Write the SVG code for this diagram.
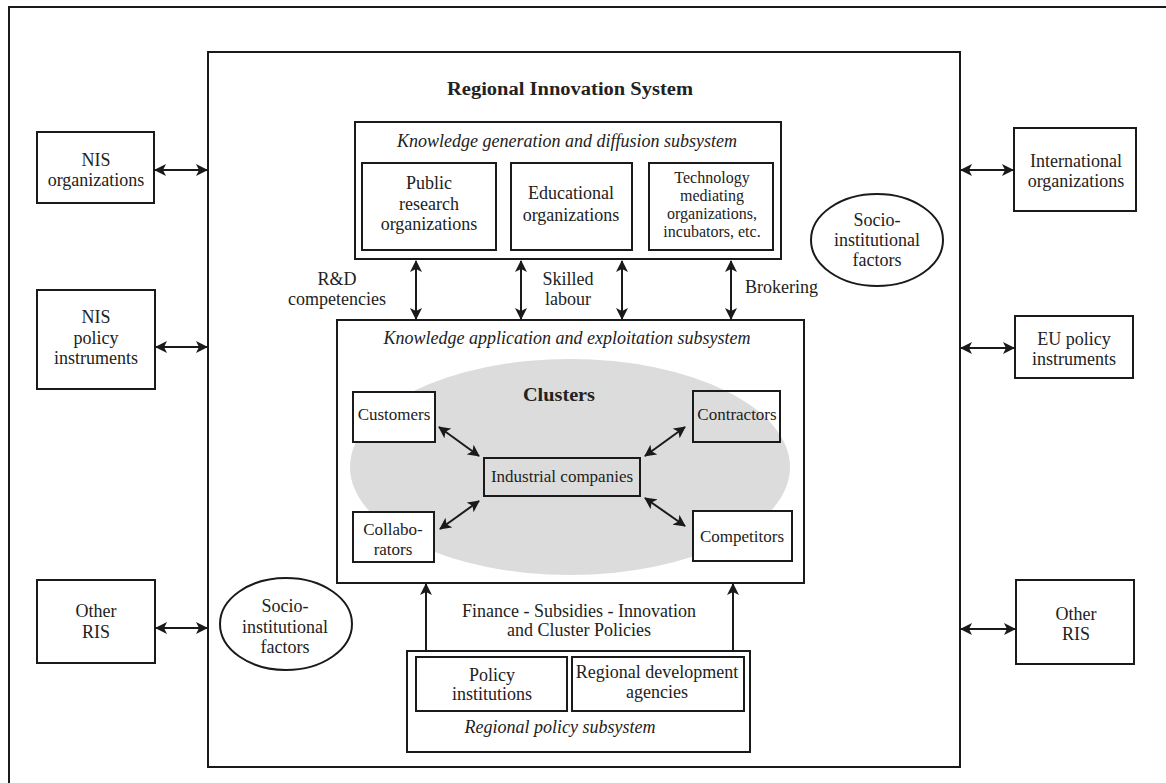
<svg xmlns="http://www.w3.org/2000/svg" width="1166" height="783" viewBox="0 0 1166 783">
<defs>
<marker id="ah" viewBox="0 0 12 12" refX="11" refY="6" markerWidth="12" markerHeight="12" markerUnits="userSpaceOnUse" orient="auto-start-reverse">
<path d="M0,0 L12,6 L0,12 L3,6 z" fill="#1a1a1a"/>
</marker>
</defs>
<style>
.b{fill:none;stroke:#1a1a1a;stroke-width:2}
.w{fill:#fff;stroke:#1a1a1a;stroke-width:2}
text{font-family:"Liberation Serif","Times New Roman",serif;font-size:18px;fill:#222;text-anchor:middle}
.it{font-style:italic}
.bd{font-weight:bold}
.sm{font-size:16px}
.cl{font-size:17px}
.c{fill:none;stroke:#1a1a1a;stroke-width:2;marker-start:url(#ah);marker-end:url(#ah)}
.u{fill:none;stroke:#1a1a1a;stroke-width:2;marker-end:url(#ah)}
</style>
<rect width="1166" height="783" fill="#fff"/>
<path class="b" d="M9,783 V7 H1166"/>

<g id="ris">
<rect class="b" x="208" y="52" width="752" height="715"/>
<text class="bd" x="570" y="95" font-size="20.5" textLength="246" lengthAdjust="spacingAndGlyphs">Regional Innovation System</text>
</g>

<g id="nis-org"><rect class="b" x="37" y="132" width="117" height="71"/>
<text x="96" y="166">NIS</text><text x="96" y="186">organizations</text></g>
<g id="nis-policy"><rect class="b" x="37" y="290" width="118" height="99"/>
<text x="96" y="323">NIS</text><text x="96" y="344">policy</text><text x="96" y="364">instruments</text></g>
<g id="other-ris-left"><rect class="b" x="37" y="580" width="118" height="83"/>
<text x="96" y="617">Other</text><text x="96" y="638">RIS</text></g>

<g id="intl-org"><rect class="b" x="1014" y="128" width="122" height="83"/>
<text x="1076" y="167">International</text><text x="1076" y="187">organizations</text></g>
<g id="eu-policy"><rect class="b" x="1015" y="316" width="118" height="62"/>
<text x="1074" y="345">EU policy</text><text x="1074" y="365">instruments</text></g>
<g id="other-ris-right"><rect class="b" x="1016" y="580" width="118" height="84"/>
<text x="1076" y="620">Other</text><text x="1076" y="640">RIS</text></g>

<g id="socio-right"><ellipse class="b" cx="877" cy="240" rx="66" ry="46"/>
<text x="877" y="226">Socio-</text><text x="877" y="246">institutional</text><text x="877" y="266">factors</text></g>
<g id="socio-left"><ellipse class="b" cx="286" cy="624" rx="66" ry="46"/>
<text x="285" y="612">Socio-</text><text x="285" y="633">institutional</text><text x="285" y="653">factors</text></g>

<g id="kgd">
<rect class="b" x="355" y="122" width="426" height="137"/>
<text class="it" x="567" y="147">Knowledge generation and diffusion subsystem</text>
</g>
<g id="public-research"><rect class="b" x="362" y="163" width="134" height="87"/>
<text x="429" y="189">Public</text><text x="429" y="210">research</text><text x="429" y="230">organizations</text></g>
<g id="educational"><rect class="b" x="511" y="163" width="121" height="87"/>
<text x="571" y="199">Educational</text><text x="571" y="221">organizations</text></g>
<g id="technology"><rect class="b" x="649" y="163" width="124" height="87"/>
<text class="sm" x="712" y="183">Technology</text><text class="sm" x="712" y="201">mediating</text><text class="sm" x="712" y="219">organizations,</text><text class="sm" x="712" y="237">incubators, etc.</text></g>

<g id="kae">
<rect class="b" x="337" y="320" width="467" height="263"/>
<text class="it" x="567" y="344">Knowledge application and exploitation subsystem</text>
</g>
<g id="clusters">
<ellipse cx="570" cy="467" rx="220" ry="108" fill="#dcdcdc"/>
<text class="bd" x="559" y="401" font-size="21" textLength="72" lengthAdjust="spacingAndGlyphs">Clusters</text>
</g>
<g id="customers"><rect class="w" x="353" y="392" width="82" height="50"/>
<text class="cl" x="394" y="420">Customers</text></g>
<g id="contractors"><rect class="b" x="693" y="391" width="87" height="51"/>
<text class="cl" x="737" y="420">Contractors</text></g>
<g id="industrial"><rect class="b" x="484" y="458" width="156" height="38"/>
<text class="cl" x="562" y="482">Industrial companies</text></g>
<g id="collaborators"><rect class="w" x="353" y="512" width="81" height="50"/>
<text class="cl" x="393" y="535">Collabo-</text><text class="cl" x="393" y="555">rators</text></g>
<g id="competitors"><rect class="w" x="693" y="511" width="99" height="50"/>
<text class="cl" x="742" y="542">Competitors</text></g>

<g id="rps">
<rect class="b" x="407" y="651" width="343" height="101"/>
<text class="it" x="560" y="733">Regional policy subsystem</text>
</g>
<g id="policy-inst"><rect class="b" x="416" y="657" width="151" height="54"/>
<text x="492" y="681">Policy</text><text x="492" y="700">institutions</text></g>
<g id="rda"><rect class="b" x="572" y="657" width="172" height="54"/>
<text x="657" y="678">Regional development</text><text x="657" y="698">agencies</text></g>

<g id="labels">
<text x="337" y="285">R&amp;D</text><text x="337" y="305">competencies</text>
<text x="568" y="285">Skilled</text><text x="568" y="305">labour</text>
<text x="745" y="293" style="text-anchor:start">Brokering</text>
<text x="579" y="617">Finance - Subsidies - Innovation</text>
<text x="579" y="636">and Cluster Policies</text>
</g>

<g id="connectors">
<line class="c" x1="155" y1="170" x2="207" y2="170"/>
<line class="c" x1="156" y1="347" x2="207" y2="347"/>
<line class="c" x1="156" y1="628" x2="207" y2="628"/>
<line class="c" x1="961" y1="170" x2="1013" y2="170"/>
<line class="c" x1="961" y1="348" x2="1014" y2="348"/>
<line class="c" x1="961" y1="629" x2="1015" y2="629"/>
<line class="c" x1="416" y1="261" x2="416" y2="319"/>
<line class="c" x1="521" y1="261" x2="521" y2="319"/>
<line class="c" x1="622" y1="261" x2="622" y2="319"/>
<line class="c" x1="731" y1="261" x2="731" y2="319"/>
<line class="c" x1="439" y1="427" x2="479" y2="456"/>
<line class="c" x1="685" y1="427" x2="645" y2="456"/>
<line class="c" x1="440" y1="529" x2="479" y2="501"/>
<line class="c" x1="645" y1="498" x2="685" y2="526"/>
<line class="u" x1="426" y1="650" x2="426" y2="584"/>
<line class="u" x1="733" y1="650" x2="733" y2="584"/>
</g>
</svg>
